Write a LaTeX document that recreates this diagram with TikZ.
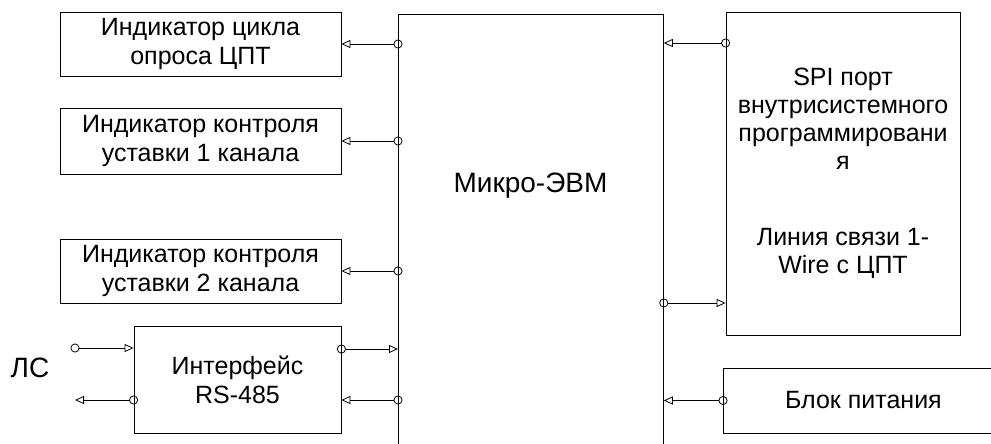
\documentclass[tikz,border=0pt]{standalone}
\usepackage{fontspec}
\setmainfont{Liberation Sans}
\usetikzlibrary{arrows.meta,positioning,calc}

\begin{document}
\begin{tikzpicture}[x=1pt, y=-1pt,
  font=\fontsize{25}{29}\selectfont,
  box/.style={draw, line width=0.8pt, inner sep=0pt, align=center, minimum width=#1},
  box/.default=281pt,
  big/.style={font=\fontsize{28}{32}\selectfont},
  sig/.style={line width=0.8pt, shorten <=-4.5pt,
              {Circle[open, length=9pt, width=9pt]}-{Triangle[open, length=9pt, width=8pt]}}]
\clip (0,0) rectangle (991,444);
%% left column
\node[box, minimum height=64pt] (ind1) at (200.5,44) {Индикатор цикла\\опроса ЦПТ};
\node[box, minimum height=66pt] (ind2) at (200.5,141) {Индикатор контроля\\уставки 1 канала};
\node[box, minimum height=64pt] (ind3) at (200.5,271) {Индикатор контроля\\уставки 2 канала};
\node[box=207pt, minimum height=107pt] (rs) at (237.5,379.5) {Интерфейс\\RS-485};
\node[big] (ls) at (30,368) {ЛС};
%% centre
\node[box=265pt, minimum height=490pt, anchor=north west] (mcu) at (398,14) {};
\node[big] (mcutext) at (530.5,186) {Микро-ЭВМ};
%% right column
\node[box=234pt, minimum height=323pt, font=\fontsize{25}{27.7}\selectfont] (spi) at (843,173.5)
  {SPI порт\\внутрисистемного\\программировани\\я\\[49pt]Линия связи 1-\\Wire с ЦПТ};
\node[box=280pt, minimum height=65pt, anchor=west] (psu) at (723,400.5) {Блок питания};
%% pins
\path (rs.east) ++(0,-30.5) coordinate (rs out) ++(0,51) coordinate (rs in);
\path (spi.west) ++(0,-130.5) coordinate (spi out) ++(0,260) coordinate (spi in);
\coordinate (ls in) at (75,348);
\coordinate (ls out) at (75,400);
%% arrows
\foreach \n in {ind1,ind2,ind3} \draw[sig] (mcu.west |- \n.east) -- (\n.east);
\draw[sig] (rs out) -- (mcu.west |- rs out);
\draw[sig] (mcu.west |- rs in) -- (rs in);
\draw[sig] (ls in) -- (rs.west |- ls in);
\draw[sig] (rs.west |- ls out) -- (ls out);
\draw[sig] (spi out) -- (mcu.east |- spi out);
\draw[sig] (mcu.east |- spi in) -- (spi in);
\draw[sig] (psu.west) -- (mcu.east |- psu.west);
\end{tikzpicture}
\end{document}
